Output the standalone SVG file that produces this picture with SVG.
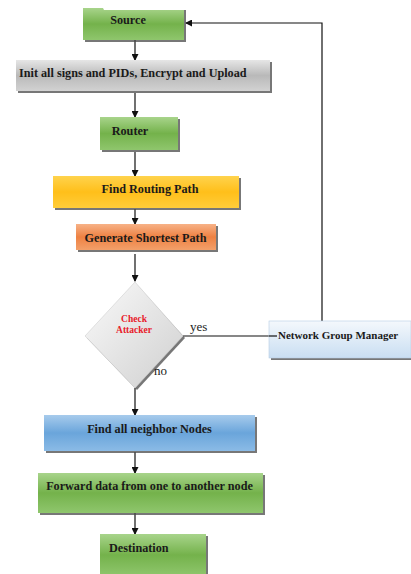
<svg xmlns="http://www.w3.org/2000/svg" width="411" height="574" viewBox="0 0 411 574">
  <defs>
    <linearGradient id="gGreen" x1="0" y1="0" x2="0" y2="1">
      <stop offset="0" stop-color="#a8d48b"/>
      <stop offset="0.5" stop-color="#74b24b"/>
      <stop offset="1" stop-color="#8fc66d"/>
    </linearGradient>
    <linearGradient id="gGray" x1="0" y1="0" x2="0" y2="1">
      <stop offset="0" stop-color="#e6e6e6"/>
      <stop offset="0.5" stop-color="#b9b9b9"/>
      <stop offset="1" stop-color="#d2d2d2"/>
    </linearGradient>
    <linearGradient id="gYellow" x1="0" y1="0" x2="0" y2="1">
      <stop offset="0" stop-color="#ffd34d"/>
      <stop offset="0.5" stop-color="#ffbf1a"/>
      <stop offset="1" stop-color="#ffcd3a"/>
    </linearGradient>
    <linearGradient id="gOrange" x1="0" y1="0" x2="0" y2="1">
      <stop offset="0" stop-color="#f7b287"/>
      <stop offset="0.5" stop-color="#ee8142"/>
      <stop offset="1" stop-color="#f3a06a"/>
    </linearGradient>
    <linearGradient id="gBlue" x1="0" y1="0" x2="0" y2="1">
      <stop offset="0" stop-color="#a7cbec"/>
      <stop offset="0.5" stop-color="#6aa5db"/>
      <stop offset="1" stop-color="#8bbbe6"/>
    </linearGradient>
    <linearGradient id="gPale" x1="0" y1="0" x2="0" y2="1">
      <stop offset="0" stop-color="#f4f8fc"/>
      <stop offset="1" stop-color="#c9def2"/>
    </linearGradient>
    <linearGradient id="gDiamond" x1="0" y1="0" x2="1" y2="1">
      <stop offset="0" stop-color="#fafafa"/>
      <stop offset="1" stop-color="#cfcfcf"/>
    </linearGradient>
    <marker id="arrow" markerWidth="7" markerHeight="7" refX="6" refY="3.5" orient="auto" markerUnits="userSpaceOnUse">
      <path d="M0,0 L7,3.5 L0,7 Z" fill="#111"/>
    </marker>
  </defs>
  <style>
    .shadow { fill: #4a4a4a; opacity: 0.75; }
    .lbl { font-family: "Liberation Serif", "Times New Roman", serif; font-weight: bold; font-size: 12.2px; fill: #1a1a1a; }
    .small { font-size: 11px; }
    .conn { stroke: #111; stroke-width: 1.2; fill: none; }
    .plain { font-family: "Liberation Serif", "Times New Roman", serif; font-size: 13px; fill: #222; }
    .red { font-family: "Liberation Serif", "Times New Roman", serif; font-weight: bold; font-size: 9.5px; fill: #e8202a; text-anchor: middle; }
  </style>

  <!-- flow connectors -->
  <g id="connectors">
    <line class="conn" x1="135" y1="33" x2="135" y2="60" marker-end="url(#arrow)"/>
    <line class="conn" x1="135" y1="93" x2="135" y2="117" marker-end="url(#arrow)"/>
    <line class="conn" x1="135" y1="152" x2="135" y2="176" marker-end="url(#arrow)"/>
    <line class="conn" x1="135" y1="209" x2="135" y2="224" marker-end="url(#arrow)"/>
    <line class="conn" x1="135" y1="254" x2="135" y2="281" marker-end="url(#arrow)"/>
    <line class="conn" x1="135" y1="388" x2="135" y2="415" marker-end="url(#arrow)"/>
    <line class="conn" x1="135" y1="452" x2="135" y2="473" marker-end="url(#arrow)"/>
    <line class="conn" x1="135" y1="513" x2="135" y2="534" marker-end="url(#arrow)"/>
    <polyline class="conn" points="322,321 322,23 186,23" marker-end="url(#arrow)"/>
    <line class="conn" x1="183" y1="336" x2="277" y2="336"/>
  </g>

  <g id="source">
    <rect class="shadow" x="85" y="10" width="101" height="32"/>
    <path d="M83,8 L103,8 L104,10 L184,10 L184,40 L83,40 Z" fill="url(#gGreen)"/>
    <text class="lbl" x="128" y="24" text-anchor="middle">Source</text>
  </g>

  <g id="init">
    <rect class="shadow" x="18" y="62" width="254" height="31"/>
    <rect x="16" y="60" width="254" height="31" fill="url(#gGray)"/>
    <text class="lbl" x="19" y="77">Init all signs and PIDs, Encrypt and Upload</text>
  </g>

  <g id="router">
    <rect class="shadow" x="102" y="119" width="78" height="33"/>
    <rect x="100" y="117" width="78" height="33" fill="url(#gGreen)"/>
    <text class="lbl" x="130" y="135" text-anchor="middle">Router</text>
  </g>

  <g id="find-routing-path">
    <rect class="shadow" x="55" y="178" width="186" height="32"/>
    <rect x="53" y="176" width="186" height="32" fill="url(#gYellow)"/>
    <text class="lbl" x="150" y="193" text-anchor="middle">Find Routing Path</text>
  </g>

  <g id="generate-shortest-path">
    <rect class="shadow" x="78" y="226" width="140" height="26"/>
    <rect x="76" y="224" width="140" height="26" fill="url(#gOrange)"/>
    <text class="lbl" x="145.5" y="242" text-anchor="middle">Generate Shortest Path</text>
  </g>

  <g id="check-attacker">
    <polygon class="shadow" points="137,285 185,338 137,390 87,338" opacity="0.35"/>
    <polygon points="135,282 183,336 135,388 85,336" fill="url(#gDiamond)" stroke="#cfcfcf" stroke-width="0.6"/>
    <text class="red" x="134" y="322">Check</text>
    <text class="red" x="134" y="333">Attacker</text>
  </g>

  <g id="network-group-manager">
    <rect class="shadow" x="271" y="323" width="140" height="37" opacity="0.3"/>
    <rect x="269" y="321" width="142" height="37" fill="url(#gPale)" stroke="#b7cde3" stroke-width="0.6"/>
    <text class="lbl small" x="278" y="339">Network Group Manager</text>
    <line class="conn" x1="269" y1="336" x2="277" y2="336"/>
  </g>

  <g id="branch-labels">
    <text class="plain" x="190" y="331">yes</text>
    <text class="plain" x="154" y="375">no</text>
  </g>

  <g id="find-neighbor-nodes">
    <rect class="shadow" x="46" y="417" width="211" height="36"/>
    <rect x="44" y="415" width="211" height="36" fill="url(#gBlue)"/>
    <text class="lbl" x="149.5" y="433" text-anchor="middle">Find all neighbor Nodes</text>
  </g>

  <g id="forward-data">
    <rect class="shadow" x="40" y="475" width="225" height="40"/>
    <rect x="38" y="473" width="225" height="40" fill="url(#gGreen)"/>
    <text class="lbl" x="149.5" y="490" text-anchor="middle">Forward data from one to another node</text>
  </g>

  <g id="destination">
    <rect class="shadow" x="102" y="536" width="106" height="40"/>
    <rect x="100" y="534" width="106" height="42" fill="url(#gGreen)"/>
    <text class="lbl" x="109" y="552">Destination</text>
  </g>
</svg>
